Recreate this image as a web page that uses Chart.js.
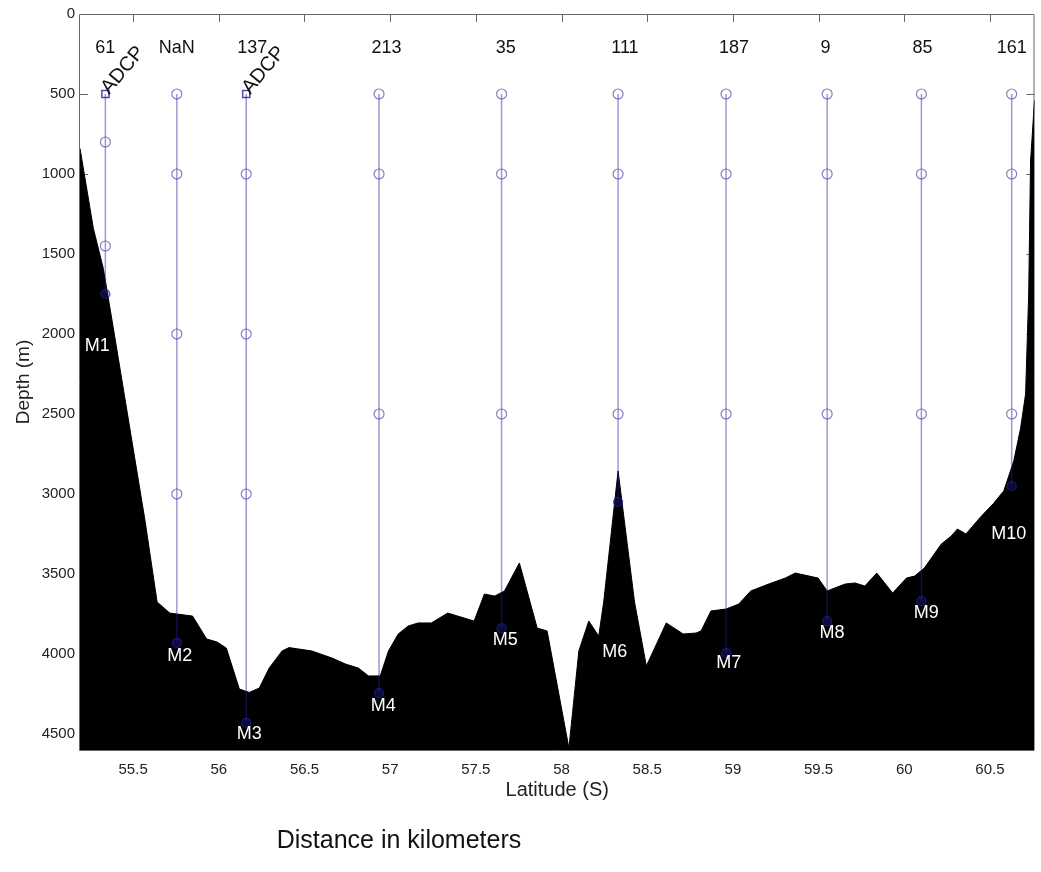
<!DOCTYPE html>
<html>
<head>
<meta charset="utf-8">
<title>Mooring section</title>
<script src="https://cdn.jsdelivr.net/npm/chart.js@4"></script>
<style>
  html, body { margin: 0; padding: 0; background: #fff; }
  #wrap { width: 1041px; height: 872px; }
</style>
</head>
<body>
<div id="wrap"><canvas id="c" width="1041" height="872"></canvas></div>
<script>
// axis ranges and ticks
const X_MIN = 55.19, X_MAX = 60.76;
const Y_MIN = 0, Y_MAX = 4600;
const xTicks = [55.5, 56, 56.5, 57, 57.5, 58, 58.5, 59, 59.5, 60, 60.5];
const yTicks = [0, 500, 1000, 1500, 2000, 2500, 3000, 3500, 4000, 4500];

// bottom profile (latitude S, depth m)
const bathyLat = [55.19, 55.268, 55.326, 55.384, 55.57, 55.64, 55.714, 55.755, 55.847, 55.929,
  55.99, 56.044, 56.12, 56.178, 56.236, 56.294, 56.369, 56.41, 56.467, 56.543,
  56.66, 56.74, 56.815, 56.873, 56.942, 56.99, 57.047, 57.105, 57.163, 57.24,
  57.336, 57.394, 57.49, 57.55, 57.61, 57.667, 57.754, 57.858, 57.916, 58.043,
  58.101, 58.159, 58.217, 58.246, 58.33, 58.426, 58.495, 58.611, 58.71, 58.785,
  58.814, 58.872, 58.96, 59.034, 59.104, 59.208, 59.306, 59.364, 59.497, 59.55,
  59.654, 59.712, 59.77, 59.84, 59.932, 60.013, 60.06, 60.117, 60.216, 60.274,
  60.31, 60.36, 60.448, 60.52, 60.581, 60.639, 60.679, 60.708, 60.726, 60.737, 60.76];
const bathyDepth = [840, 1340, 1590, 1960, 3170, 3675, 3744, 3750, 3763, 3906,
  3925, 3963, 4219, 4240, 4213, 4088, 3981, 3960, 3969, 3981,
  4025, 4063, 4088, 4137, 4137, 3981, 3875, 3825, 3806, 3806,
  3744, 3763, 3794, 3625, 3638, 3606, 3431, 3838, 3856, 4588,
  3981, 3794, 3888, 3675, 2856, 3675, 4075, 3806, 3875, 3869,
  3856, 3731, 3719, 3688, 3606, 3563, 3525, 3494, 3525, 3606,
  3563, 3556, 3575, 3494, 3619, 3525, 3513, 3463, 3313, 3263,
  3219, 3250, 3140, 3060, 2980, 2794, 2588, 2375, 1750, 919, 540];

// moorings
const moorNames = ['M1', 'M2', 'M3', 'M4', 'M5', 'M6', 'M7', 'M8', 'M9', 'M10'];
const moorLat = [55.338, 55.755, 56.16, 56.935, 57.65, 58.33, 58.96, 59.55, 60.1, 60.627];
const topDepth = [500, 500, 500, 500, 500, 500, 500, 500, 500, 500];
const anchorDepth = [1750, 3930, 4430, 4245, 3840, 3050, 3995, 3795, 3670, 2950];
const instDepth = [
  [800, 1450],
  [500, 1000, 2000, 3000],
  [1000, 2000, 3000],
  [500, 1000, 2500],
  [500, 1000, 2500],
  [500, 1000, 2500],
  [500, 1000, 2500],
  [500, 1000, 2500],
  [500, 1000, 2500],
  [500, 1000, 2500]
];
const adcpDepth = [500, null, 500, null, null, null, null, null, null, null];

// annotations
const distText = ['61', 'NaN', '137', '213', '35', '111', '187', '9', '85', '161'];
const distLat = [55.338, 55.755, 56.195, 56.979, 57.674, 58.37, 59.007, 59.54, 60.106, 60.627];
const DIST_DEPTH = 215;
const nameLat = [55.291, 55.772, 56.178, 56.96, 57.672, 58.31, 58.976, 59.579, 60.129, 60.61];
const nameDepth = [2075, 4010, 4500, 4325, 3912, 3990, 4056, 3868, 3744, 3250];

const FONT = "'Liberation Sans', Arial, Helvetica, sans-serif";
const MOOR_COLOR = 'rgba(30,30,150,0.45)';
const AXIS_COLOR = '#666';

const bathy = bathyLat.map((v, i) => ({ x: v, y: bathyDepth[i] }));

const moorSets = moorLat.map((lat, i) => ({
  type: 'line',
  data: [{ x: lat, y: topDepth[i] }, { x: lat, y: anchorDepth[i] }],
  borderColor: MOOR_COLOR,
  borderWidth: 1.5,
  pointRadius: 0,
  fill: false,
  order: 2
}));

const inst = [];
instDepth.forEach((arr, i) => arr.forEach(d => inst.push({ x: moorLat[i], y: d })));
const adcp = [];
adcpDepth.forEach((d, i) => { if (d != null) adcp.push({ x: moorLat[i], y: d }); });
const anchors = moorLat.map((lat, i) => ({ x: lat, y: anchorDepth[i] }));

const decor = {
  id: 'decor',
  beforeDatasetsDraw(chart) {
    const { ctx, chartArea: a, scales: { x, y } } = chart;
    ctx.save();
    ctx.strokeStyle = AXIS_COLOR;
    ctx.lineWidth = 1;
    ctx.beginPath();
    ctx.rect(a.left - 0.5, a.top + 0.5, a.right - a.left, a.bottom - a.top);
    xTicks.forEach(v => {
      const px = Math.round(x.getPixelForValue(v)) + 0.5;
      ctx.moveTo(px, a.top); ctx.lineTo(px, a.top + 8);
      ctx.moveTo(px, a.bottom); ctx.lineTo(px, a.bottom - 8);
    });
    yTicks.forEach(v => {
      if (v === Y_MIN) return;
      const py = Math.round(y.getPixelForValue(v)) + 0.5;
      ctx.moveTo(a.left, py); ctx.lineTo(a.left + 8, py);
      ctx.moveTo(a.right, py); ctx.lineTo(a.right - 8, py);
    });
    ctx.stroke();
    ctx.restore();
  },
  afterDatasetsDraw(chart) {
    const { ctx, scales: { x, y } } = chart;
    ctx.save();
    ctx.textAlign = 'center';
    ctx.textBaseline = 'middle';
    ctx.fillStyle = '#111';
    ctx.font = '18px ' + FONT;
    distText.forEach((t, i) => ctx.fillText(t, x.getPixelForValue(distLat[i]), y.getPixelForValue(DIST_DEPTH)));

    ctx.fillStyle = '#fff';
    moorNames.forEach((t, i) => ctx.fillText(t, x.getPixelForValue(nameLat[i]), y.getPixelForValue(nameDepth[i])));

    // ADCP tags, tilted
    ctx.fillStyle = '#111';
    ctx.font = '20px ' + FONT;
    ctx.textAlign = 'left';
    ctx.textBaseline = 'alphabetic';
    adcp.forEach(p => {
      ctx.save();
      ctx.translate(x.getPixelForValue(p.x) + 4, y.getPixelForValue(p.y) + 1);
      ctx.rotate(-50 * Math.PI / 180);
      ctx.fillText('ADCP', 0, 0);
      ctx.restore();
    });
    ctx.restore();
  },
  afterDraw(chart) {
    const { ctx } = chart;
    ctx.save();
    ctx.fillStyle = '#111';
    ctx.font = '25px ' + FONT;
    ctx.textAlign = 'center';
    ctx.textBaseline = 'middle';
    ctx.fillText('Distance in kilometers', 399, 841);
    ctx.restore();
  }
};

new Chart(document.getElementById('c'), {
  type: 'scatter',
  data: {
    datasets: [
      {
        label: 'anchors',
        data: anchors,
        pointStyle: 'circle',
        pointRadius: 4.5,
        borderColor: 'rgba(30,30,150,0.8)',
        backgroundColor: 'rgba(30,30,150,0.35)',
        borderWidth: 1.2,
        order: 0
      },
      {
        label: 'ADCP',
        data: adcp,
        pointStyle: 'rect',
        pointRadius: 5,
        borderColor: 'rgba(30,30,160,0.8)',
        backgroundColor: 'rgba(0,0,0,0)',
        borderWidth: 1.5,
        order: 0
      },
      {
        label: 'instruments',
        data: inst,
        pointStyle: 'circle',
        pointRadius: 5,
        borderColor: 'rgba(30,30,150,0.55)',
        backgroundColor: 'rgba(0,0,0,0)',
        borderWidth: 1.2,
        order: 1
      },
      ...moorSets,
      {
        type: 'line',
        label: 'bottom',
        data: bathy,
        borderColor: '#000',
        borderWidth: 1,
        backgroundColor: '#000',
        pointRadius: 0,
        tension: 0,
        fill: { value: Y_MAX },
        order: 10
      }
    ]
  },
  options: {
    responsive: false,
    animation: false,
    devicePixelRatio: 1,
    layout: { padding: { top: 14, right: 1, bottom: 70, left: 0 } },
    plugins: { legend: { display: false }, tooltip: { enabled: false } },
    scales: {
      x: {
        type: 'linear',
        min: X_MIN,
        max: X_MAX,
        grid: { display: false, drawTicks: false },
        border: { display: false },
        afterBuildTicks: s => { s.ticks = xTicks.map(v => ({ value: v })); },
        afterFit: s => { s.height = 52; s.paddingLeft = 0; s.paddingRight = 0; },
        ticks: {
          padding: 11,
          color: '#222',
          font: { family: FONT, size: 15 },
          callback: v => String(v)
        },
        title: {
          display: true,
          text: 'Latitude (S)',
          color: '#222',
          font: { family: FONT, size: 20 },
          padding: { top: 0, bottom: 0 }
        }
      },
      y: {
        type: 'linear',
        reverse: true,
        min: Y_MIN,
        max: Y_MAX,
        grid: { display: false, drawTicks: false },
        border: { display: false },
        afterBuildTicks: s => { s.ticks = yTicks.map(v => ({ value: v })); },
        afterFit: s => { s.width = 80; s.paddingTop = 0; s.paddingBottom = 0; },
        ticks: {
          padding: 5,
          color: '#222',
          font: { family: FONT, size: 15 },
          callback: v => String(v)
        },
        title: {
          display: true,
          text: 'Depth (m)',
          color: '#222',
          font: { family: FONT, size: 19 },
          padding: { top: 12, bottom: 0 }
        }
      }
    }
  },
  plugins: [decor]
});
</script>
</body>
</html>
